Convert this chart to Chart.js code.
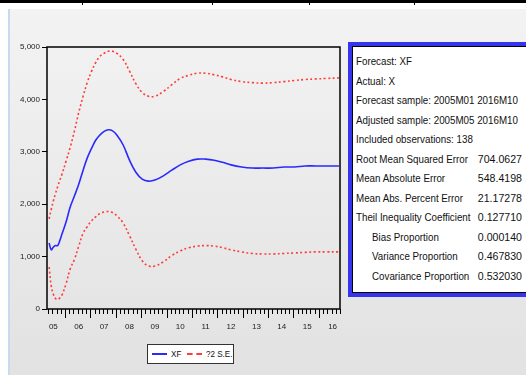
<!DOCTYPE html>
<html>
<head>
<meta charset="utf-8">
<script src="https://cdn.jsdelivr.net/npm/chart.js@4.4.1/dist/chart.umd.min.js"></script>
<style>
  body { margin: 0; width: 526px; height: 375px; overflow: hidden; background: #fff; position: relative;
         font-family: "Liberation Sans", Arial, sans-serif; }
  #bg { position: absolute; left: 8px; top: 9px; right: 0; bottom: 0;
        background: linear-gradient(#f3f3f3, #e2e2e2); border-left: 2px solid #c9d9f0; }
  #topline { position: absolute; left: 0; top: 0; width: 526px; height: 3px; background: #000; }
  .tk { position: absolute; top: 0; width: 1px; height: 5px; background: #000; }
  #wrap { position: absolute; left: 0; top: 0; width: 345px; height: 375px; }
  #stats { position: absolute; left: 348px; top: 42px; width: 190px; height: 247px;
           border: 4px solid #3535f0; background: #000; }
  #stats .in { position: absolute; left: 1px; top: 1px; right: 1px; bottom: 1px; background: #fff; }
  .row { position: absolute; left: 3px; width: 166px; height: 19.5px; line-height: 19.5px;
         font-size: 11.5px; color: #111; white-space: nowrap; }
  .row .l { position: absolute; left: 0; top: 0; transform: scaleX(0.85); transform-origin: left center; }
  .row .v { position: absolute; right: 0; top: 0; transform: scaleX(0.92); transform-origin: right center; }
  .row.ind .l { left: 16px; }
  #legend { position: absolute; left: 147px; top: 344px; width: 85px; height: 18px;
            border: 1.5px solid #333; background: #fff; font-size: 9.5px; line-height: 18px; color: #111;
            white-space: nowrap; }
  #legend span { position: absolute; top: 0; transform: scaleX(0.85); transform-origin: left center; }
  .ls { position: absolute; top: 8px; width: 15px; height: 0; }
</style>
</head>
<body>
<div id="bg"></div>
<div id="topline"></div>
<div class="tk" style="left:82px"></div>
<div class="tk" style="left:212px"></div>
<div class="tk" style="left:309px"></div>
<div class="tk" style="left:414px"></div>
<div id="wrap"><canvas id="c" width="345" height="375"></canvas></div>
<div id="stats"><div class="in" id="statsIn"></div></div>
<div id="legend">
  <div class="ls" style="left:4px;border-top:2px solid #2a2aff"></div>
  <span style="left:23px">XF</span>
  <div class="ls" style="left:39px;border-top:2px dashed #ff3b3b"></div>
  <span style="left:58px">?2 S.E.</span>
</div>
<script>
// months since 2005M01
const months = [4, 5, 6, 7, 8, 9, 10, 12, 14, 16, 18, 20, 22, 24, 26, 28, 30, 32, 34, 36, 39, 42, 45, 48, 51, 54,
  58, 62, 66, 70, 74, 78, 82, 86, 90, 95, 100, 105, 110, 115, 120, 125, 130, 135, 141];
const xf = [1260, 1130, 1180, 1210, 1210, 1300, 1420, 1660, 1950, 2160, 2380, 2640, 2880, 3060, 3220, 3320, 3390,
  3420, 3400, 3320, 3130, 2840, 2610, 2480, 2440, 2460, 2540, 2650, 2750, 2820, 2860, 2860, 2840, 2800, 2750,
  2710, 2690, 2690, 2690, 2710, 2710, 2730, 2730, 2730, 2730];
const upper = [1720, 1900, 2060, 2200, 2330, 2450, 2560, 2820, 3090, 3400, 3750, 4050, 4320, 4530, 4700, 4820,
  4880, 4920, 4920, 4880, 4760, 4540, 4300, 4130, 4060, 4060, 4150, 4280, 4400, 4460, 4500, 4500, 4470, 4430,
  4380, 4340, 4320, 4310, 4320, 4340, 4360, 4380, 4390, 4400, 4410];
const lower = [800, 440, 280, 200, 180, 210, 260, 480, 770, 950, 1200, 1440, 1570, 1680, 1760, 1820, 1850, 1860,
  1840, 1780, 1640, 1400, 1140, 920, 820, 820, 900, 1020, 1110, 1170, 1200, 1210, 1200, 1170, 1130, 1090, 1060,
  1050, 1050, 1060, 1070, 1080, 1090, 1090, 1090];
const yearLabels = ["05", "06", "07", "08", "09", "10", "11", "12", "13", "14", "15", "16"];

const statLabels = ["Forecast: XF", "Actual: X", "Forecast sample: 2005M01 2016M10",
  "Adjusted sample: 2005M05 2016M10", "Included observations: 138", "Root Mean Squared Error",
  "Mean Absolute Error", "Mean Abs. Percent Error", "Theil Inequality Coefficient",
  "Bias Proportion", "Variance Proportion", "Covariance Proportion"];
const statValues = ["", "", "", "", "", "704.0627", "548.4198", "21.17278", "0.127710",
  "0.000140", "0.467830", "0.532030"];

const statsIn = document.getElementById("statsIn");
statLabels.forEach((l, i) => {
  const r = document.createElement("div");
  r.className = "row" + (i >= 9 ? " ind" : "");
  r.style.top = (5 + i * 19.5) + "px";
  r.innerHTML = '<span class="l"></span><span class="v"></span>';
  r.querySelector(".l").textContent = l;
  r.querySelector(".v").textContent = statValues[i];
  statsIn.appendChild(r);
});

const pts = (arr) => months.map((m, i) => ({ x: m, y: arr[i] }));
const tickFont = { family: "'Liberation Sans', Arial, sans-serif", size: 8 };

// frame and month ticks
const frame = {
  id: "frame",
  afterDraw(chart) {
    const { ctx, chartArea: a, scales: { x } } = chart;
    ctx.save();
    ctx.strokeStyle = "#000";
    ctx.lineWidth = 1.5;
    ctx.strokeRect(a.left, a.top, a.right - a.left, a.bottom - a.top);
    ctx.lineWidth = 1;
    for (let m = -0.5; m <= x.max; m += 2) {
      if (m < x.min) continue;
      const px = Math.round(x.getPixelForValue(m)) + 0.5;
      const big = (m + 0.5) % 12 === 0;
      ctx.beginPath();
      ctx.moveTo(px, a.bottom);
      ctx.lineTo(px, a.bottom + (big ? 9 : 5));
      ctx.stroke();
    }
    ctx.restore();
  }
};

new Chart(document.getElementById("c"), {
  type: "line",
  data: {
    datasets: [
      { label: "?2 S.E.", data: pts(upper), borderColor: "#ff3b3b", borderWidth: 1.6, borderDash: [2, 2.5],
        pointRadius: 0, tension: 0.4 },
      { label: "?2 S.E.", data: pts(lower), borderColor: "#ff3b3b", borderWidth: 1.6, borderDash: [2, 2.5],
        pointRadius: 0, tension: 0.4 },
      { label: "XF", data: pts(xf), borderColor: "#2a2aff", borderWidth: 1.6,
        pointRadius: 0, tension: 0.4 }
    ]
  },
  options: {
    responsive: false,
    animation: false,
    layout: { padding: { left: 0, top: 47, right: 5, bottom: 0 } },
    plugins: { legend: { display: false }, tooltip: { enabled: false } },
    scales: {
      x: {
        type: "linear", min: 3, max: 141.5,
        grid: { display: false }, border: { display: false },
        afterBuildTicks: (s) => { s.ticks = yearLabels.map((l, i) => ({ value: 6 + 12 * i })); },
        afterFit: (s) => { s.height = 66; },
        ticks: { autoSkip: false, maxRotation: 0, padding: 5, color: "#222", font: tickFont,
                 callback: (v) => yearLabels[Math.round((v - 6) / 12)] }
      },
      y: {
        min: 0, max: 5000,
        border: { display: false },
        grid: { drawOnChartArea: false, drawTicks: true, tickLength: 5, color: "#000" },
        afterFit: (s) => { s.width = 47; },
        ticks: { stepSize: 1000, padding: 2, color: "#222", font: tickFont,
                 callback: (v) => v.toLocaleString("en-US") }
      }
    }
  },
  plugins: [frame]
});
</script>
</body>
</html>
